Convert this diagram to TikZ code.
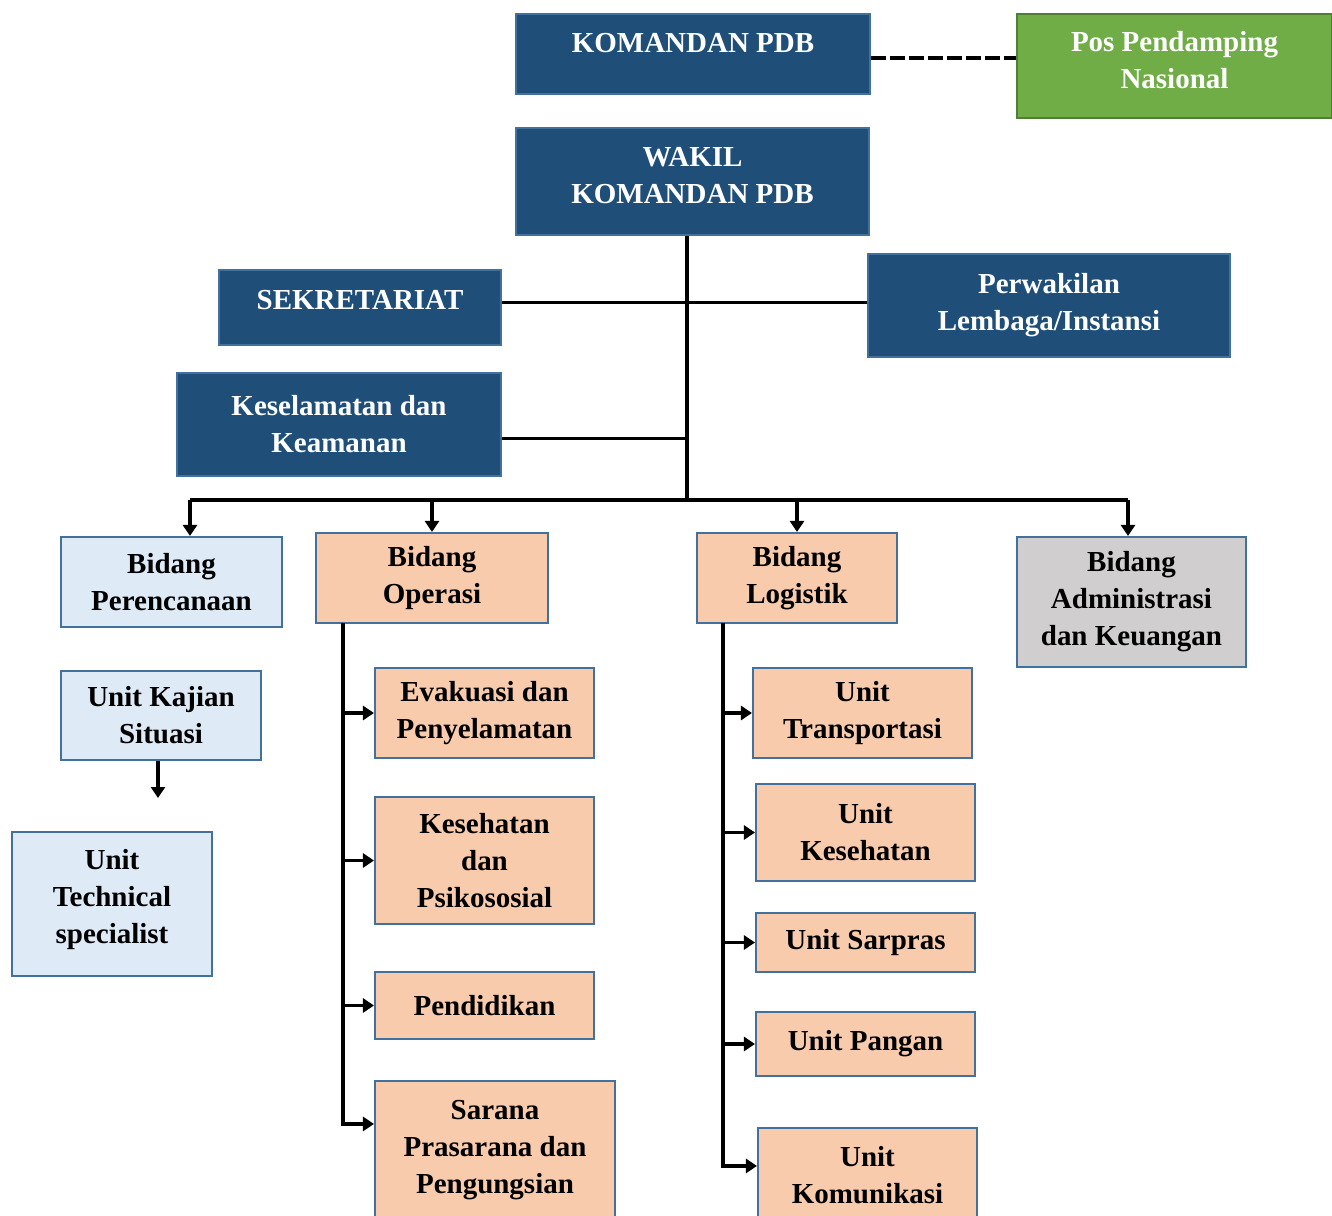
\documentclass[tikz,border=0pt]{standalone}
\usepackage{fontspec}
\setmainfont{Liberation Serif}
\usepackage{xcolor}
\usetikzlibrary{arrows.meta}

\definecolor{chiefblue}{HTML}{1F4E79}
\definecolor{edgeblue}{HTML}{41719C}
\definecolor{planblue}{HTML}{DEEBF7}
\definecolor{peach}{HTML}{F8CBAD}
\definecolor{admgrey}{HTML}{D0CECE}
\definecolor{posgreen}{HTML}{70AD47}
\definecolor{posedge}{HTML}{507E32}

\begin{document}
\begin{tikzpicture}[x=0.02cm, y=-0.02cm,
box/.style={rectangle, draw=edgeblue, line width=1.2pt, inner sep=0pt, align=center, font=\bfseries\fontsize{16.5}{21}\selectfont},
chief/.style={box, fill=chiefblue, text=white},
posbox/.style={box, draw=posedge, fill=posgreen, text=white},
plan/.style={box, fill=planblue},
field/.style={box, fill=peach},
admin/.style={box, fill=admgrey},
link/.style={line width=1.8pt},
arrow/.style={line width=1.8pt, -{Triangle[length=2.2mm, width=2.8mm]}}
]
	\clip (0,0) rectangle (1332,1216);
	\useasboundingbox (0,0) rectangle (1332,1216);
	% pimpinan
	\node[chief, minimum width=7.08cm, minimum height=1.6cm, text depth=0.45cm] (cmd) at (693,54) {KOMANDAN PDB};
	\node[posbox, minimum width=6.3cm, minimum height=2.08cm, text depth=0.24cm] (pos) at (1174.5,66) {Pos Pendamping\\Nasional};
	\node[chief, minimum width=7.06cm, minimum height=2.14cm, text depth=0.26cm] (wakil) at (692.5,181.5) {WAKIL\\KOMANDAN PDB};
	\node[chief, minimum width=5.64cm, minimum height=1.5cm, text depth=0.32cm] (sekr) at (360,307.5) {SEKRETARIAT};
	\node[chief, minimum width=7.24cm, minimum height=2.06cm] (perw) at (1049,305.5) {Perwakilan\\Lembaga/Instansi};
	\node[chief, minimum width=6.48cm, minimum height=2.06cm] (kesel) at (339,424.5) {Keselamatan dan\\Keamanan};
	% bidang
	\node[plan, minimum width=4.42cm, minimum height=1.8cm] (bplan) at (171.5,582) {Bidang\\Perencanaan};
	\node[field, minimum width=4.64cm, minimum height=1.8cm] (bops) at (432,578) {Bidang\\Operasi};
	\node[field, minimum width=4.0cm, minimum height=1.8cm] (blog) at (797,578) {Bidang\\Logistik};
	\node[admin, minimum width=4.58cm, minimum height=2.6cm] (badm) at (1131.5,602) {Bidang\\Administrasi\\dan Keuangan};
	% perencanaan
	\node[plan, minimum width=4.0cm, minimum height=1.78cm] (kajian) at (161,715.5) {Unit Kajian\\Situasi};
	\node[plan, minimum width=4.0cm, minimum height=2.88cm, text depth=0.3cm] (techspec) at (112,904) {Unit\\Technical\\specialist};
	% operasi
	\node[field, minimum width=4.38cm, minimum height=1.8cm] (evak) at (484.5,713) {Evakuasi dan\\Penyelamatan};
	\node[field, minimum width=4.38cm, minimum height=2.54cm] (kespsi) at (484.5,860.5) {Kesehatan\\dan\\Psikososial};
	\node[field, minimum width=4.38cm, minimum height=1.34cm] (pend) at (484.5,1005.5) {Pendidikan};
	\node[field, minimum width=4.8cm, minimum height=2.9cm, text depth=0.25cm] (sarana) at (495,1153.5) {Sarana\\Prasarana dan\\Pengungsian};
	% logistik
	\node[field, minimum width=4.38cm, minimum height=1.8cm] (transp) at (862.5,713) {Unit\\Transportasi};
	\node[field, minimum width=4.38cm, minimum height=1.94cm] (ukes) at (865.5,832.5) {Unit\\Kesehatan};
	\node[field, minimum width=4.38cm, minimum height=1.18cm] (sarpras) at (865.5,942.5) {Unit Sarpras};
	\node[field, minimum width=4.38cm, minimum height=1.28cm] (pangan) at (865.5,1044) {Unit Pangan};
	\node[field, minimum width=4.38cm, minimum height=1.88cm] (komun) at (867.5,1175) {Unit\\Komunikasi};
	% titik bantu
	\coordinate (hub) at (687,500);
	\coordinate (opstem) at (343,623);
	\coordinate (logstem) at (723,623);
	\coordinate (kajianend) at (158,798);
	% garis
	\draw[link, dash pattern=on 0.3cm off 0.08cm] ([yshift=-0.08cm]cmd.east) -- ([yshift=-0.08cm]cmd.east -| pos.west);
	\draw[link] (hub |- wakil.south) -- (hub);
	\draw[link] ([yshift=0.1cm]sekr.east) -- ([yshift=0.1cm]sekr.east -| perw.west);
	\draw[link] ([yshift=-0.28cm]kesel.east) -- ([yshift=-0.28cm]kesel.east -| hub);
	\draw[link] ([xshift=0.37cm]bplan.north |- hub) -- ([xshift=-0.07cm]badm.north |- hub);
	\draw[arrow] ([xshift=0.37cm]bplan.north |- hub) -- ([xshift=0.37cm]bplan.north);
	\draw[arrow] (bops.north |- hub) -- (bops.north);
	\draw[arrow] (blog.north |- hub) -- (blog.north);
	\draw[arrow] ([xshift=-0.07cm]badm.north |- hub) -- ([xshift=-0.07cm]badm.north);
	\draw[arrow] (kajianend |- kajian.south) -- (kajianend);
	% operasi
	\draw[arrow] (opstem) |- ([yshift=-0.88cm]sarana.north west);
	\draw[arrow] (opstem |- evak.west) -- (evak.west);
	\draw[arrow] (opstem |- kespsi.west) -- (kespsi.west);
	\draw[arrow] (opstem |- pend.west) -- (pend.west);
	% logistik
	\draw[arrow] (logstem) |- ([yshift=-0.78cm]komun.north west);
	\draw[arrow] (logstem |- transp.west) -- (transp.west);
	\draw[arrow] (logstem |- ukes.west) -- (ukes.west);
	\draw[arrow] (logstem |- sarpras.west) -- (sarpras.west);
	\draw[arrow] (logstem |- pangan.west) -- (pangan.west);
\end{tikzpicture}
\end{document}
